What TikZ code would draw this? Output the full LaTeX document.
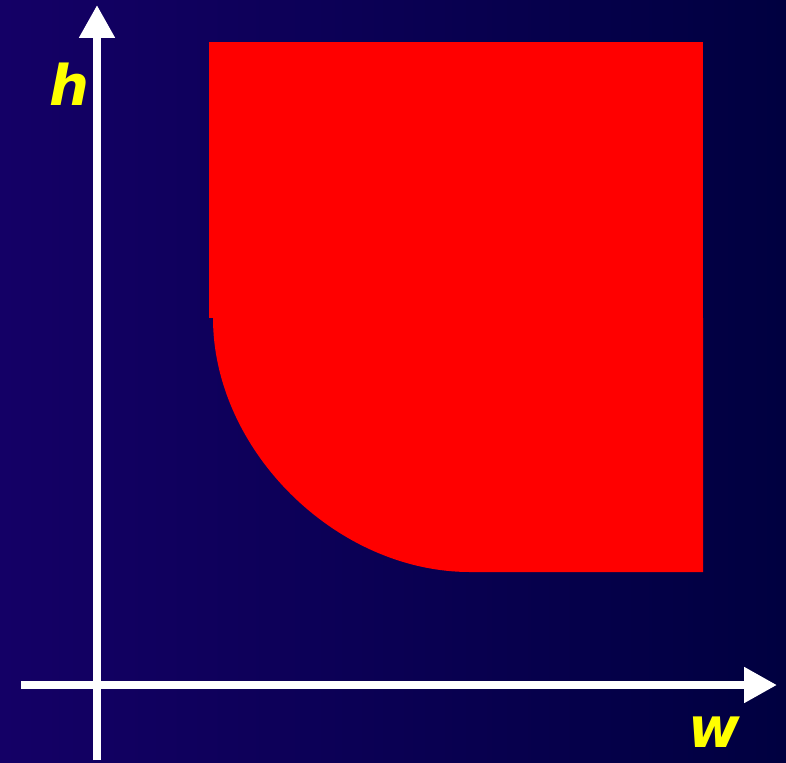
\documentclass[tikz,border=0pt]{standalone}
\usepackage{fontspec}
\newfontfamily\axisfont{DejaVu Sans}
\usetikzlibrary{arrows.meta}
\definecolor{bgleft}{HTML}{140066}
\definecolor{bgright}{HTML}{000040}
\definecolor{regionred}{HTML}{FF0000}
\definecolor{labelyellow}{HTML}{FFFF00}

\begin{document}
\begin{tikzpicture}[x=1pt, y=-1pt,
		axis/.style={draw=white, line width=8pt, -{Triangle[length=33pt, width=34pt]}},
		axislabel/.style={text=labelyellow, font=\axisfont\bfseries\itshape\fontsize{56}{56}\selectfont, inner sep=0pt},
		region/.style={fill=regionred}
	]
	\shade[left color=bgleft, right color=bgright] (0,0) rectangle (786,762);
	\useasboundingbox (0,0) rectangle (786,762);
	% red region
	\fill[region] (209,42) rectangle (703,318);
	\fill[region] (213,318) .. controls (213,450) and (336,572) .. (470,572) -- (703,572) -- (703,318) -- cycle;
	% axes
	\coordinate (ybase) at (97,760);
	\coordinate (ytip) at (97,5);
	\coordinate (xbase) at (21,685);
	\coordinate (xtip) at (777,685);
	\draw[axis] (ybase) -- (ytip);
	\draw[axis] (xbase) -- (xtip);
	\node[axislabel] (hlabel) at (69,84) {h};
	\node[axislabel] (wlabel) at (714,732) {w};
\end{tikzpicture}
\end{document}
